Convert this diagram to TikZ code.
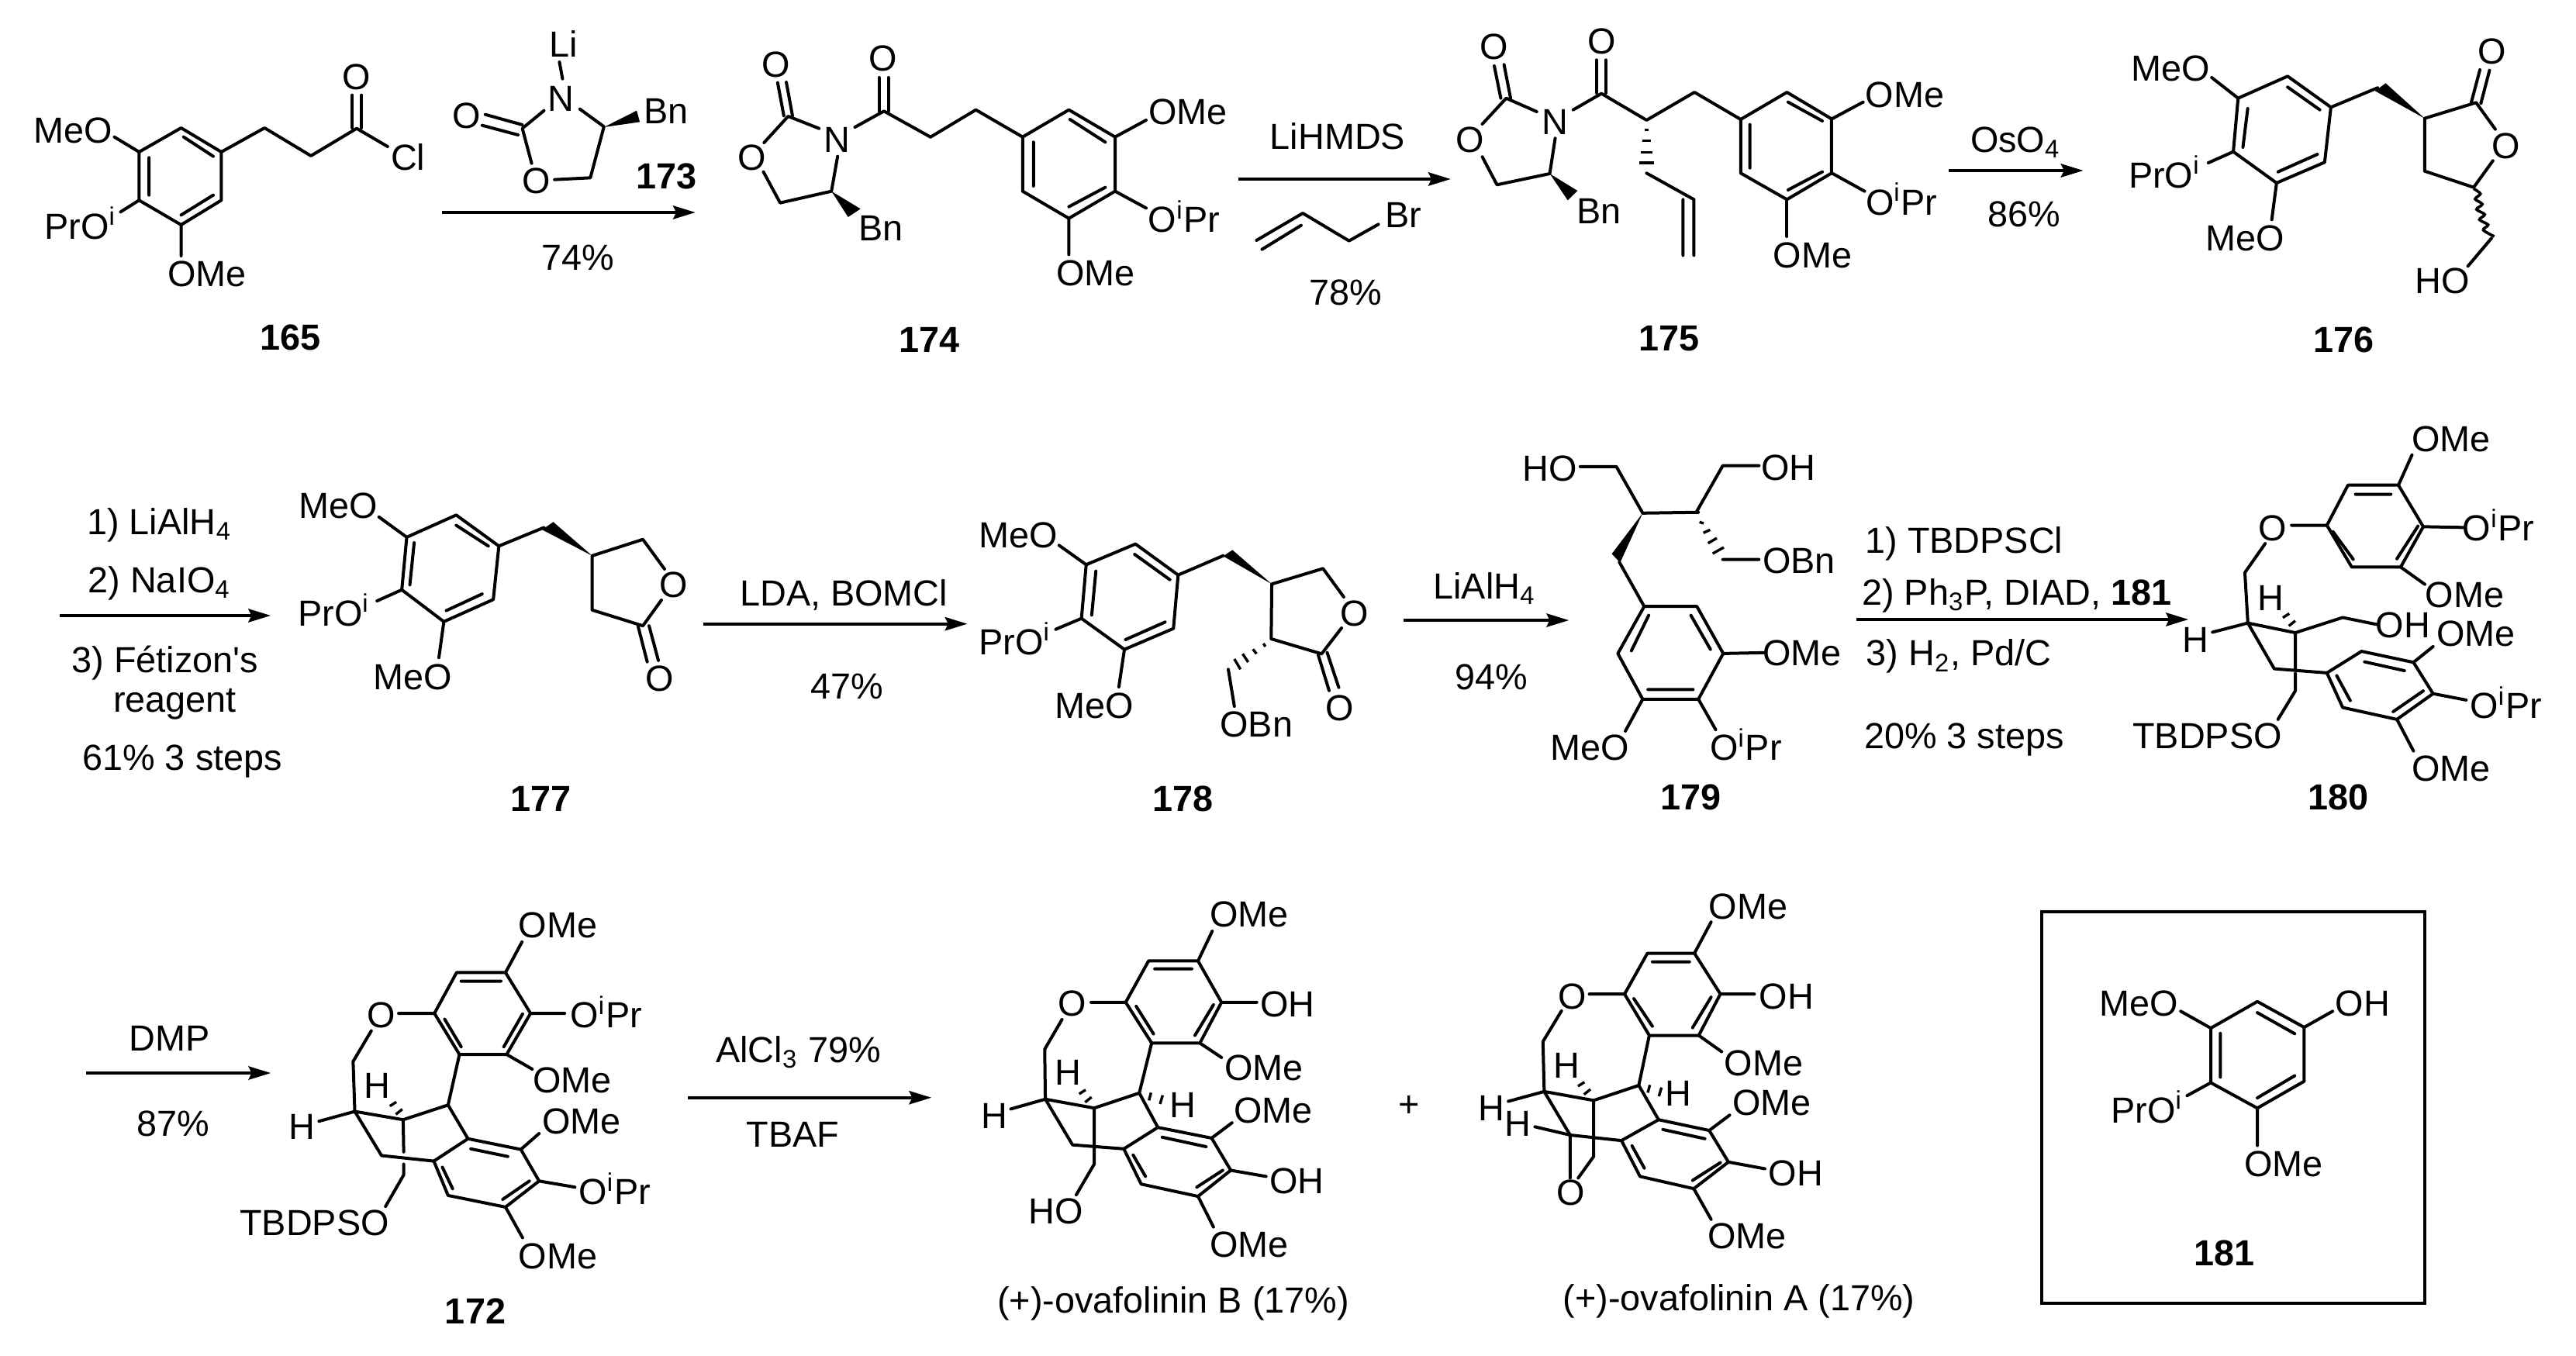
\documentclass[tikz,border=0pt]{standalone}
\usepackage{fontspec}
\newfontfamily\hv{Liberation Sans}
\usetikzlibrary{arrows.meta}
\newcounter{tc}
\tikzset{
 atom/.style={anchor=base,inner sep=0pt,outer sep=0pt,font={\hv\fontsize{11.7}{13}\selectfont}},
 bond/.style={line width=1pt,line cap=round,line join=round},
 hashb/.style={line width=0.85pt,line cap=butt},
 rxn/.style={line width=1pt,-{Stealth[length=7.2pt,width=4.3pt,inset=1pt]}},
 Zone/.style={xshift=0pt,yshift=0pt,x=0.19930pt,y=-0.08333pt},
 Ztwo/.style={xshift=312.5pt,yshift=0pt,x=0.17538pt,y=-0.08333pt},
 Zthree/.style={xshift=587.5pt,yshift=0pt,x=0.15498pt,y=-0.08333pt},
 Zfour/.style={xshift=0pt,yshift=-125pt,x=0.19930pt,y=-0.08929pt},
 Zfive/.style={xshift=450pt,yshift=-125pt,x=0.24267pt,y=-0.08929pt},
 Zsix/.style={xshift=62.5pt,yshift=-280pt,x=0.18335pt,y=-0.09885pt},
 Zseven/.style={xshift=312.5pt,yshift=-280pt,x=0.19930pt,y=-0.09885pt},
 Zeight/.style={xshift=650pt,yshift=-287.5pt,x=0.10204pt,y=-0.08929pt},
 Znine/.style={xshift=310pt,yshift=-150pt,x=0.08929pt,y=-0.08333pt},
 Zten/.style={xshift=22.5pt,yshift=-325pt,x=0.08333pt,y=-0.08333pt},
 Zeleven/.style={xshift=525pt,yshift=-145pt,x=0.08333pt,y=-0.08333pt},
 Ztwelve/.style={xshift=470pt,yshift=-330pt,x=0.08333pt,y=-0.08333pt},
}
\newcommand{\Tx}[3]{\stepcounter{tc}\node[atom] (t\arabic{tc}) at (#1,#2) {#3};}
\newcommand{\Lb}[3]{\node[atom,font={\hv\bfseries\fontsize{11.7}{13}\selectfont}] (c#3) at (#1,#2) {#3};}
\newcommand{\Wd}[3]{\fill[black] #1 -- #2 -- #3 -- cycle;}
\newcommand{\HashH}[2]{\draw[hashb] (490+#1,227+#2)--(465+#1,243+#2) (513+#1,255+#2)--(488+#1,275+#2);}
\newcommand{\HashR}[2]{\draw[hashb] (743+#1,238+#2)--(735+#1,268+#2) (788+#1,248+#2)--(778+#1,282+#2);}
\begin{document}
\begin{tikzpicture}
\useasboundingbox (0,0) rectangle (830.5pt,-437pt);
% ---------- row 1, left
\begin{scope}[Zone]
% 165
\draw[bond] (293,495)--(358,588)--(358,775)--(293,870)--(225,775)--(225,588)--cycle;
\draw[bond] (297,530)--(345,605) (345,755)--(293,832) (241,610)--(241,755);
\draw[bond] (358,588)--(428,495)--(503,603)--(577,497)--(627,567);
\draw[bond] (570,495)--(570,368) (585,495)--(585,368);
\draw[bond] (225,588)--(185,530) (225,775)--(195,820) (293,870)--(293,990);
\Tx{577}{347}{O}
\Tx{660}{658}{Cl}
\Tx{118}{552}{MeO}
\Tx{130}{925}{PrO\textsuperscript{i}}
\Tx{335}{1110}{OMe}
\Lb{470}{1355}{165}
% 173
\Tx{912}{220}{Li}
\Tx{907}{430}{N}
\Tx{755}{495}{O}
\Tx{868}{750}{O}
\Tx{1078}{478}{Bn}
\Lb{1078}{730}{173}
\draw[bond] (905,240)--(910,305) (880,428)--(845,497)--(860,632) (897,695)--(955,688)--(977,490)--(938,422);
\draw[bond] (785,443)--(845,483) (780,485)--(838,522);
\Wd{(977,492)}{(1030,428)}{(1035,472)}
\coordinate (r1a) at (715,822); \coordinate (r1b) at (1125,822);
\draw[rxn] (r1a)--(r1b);
\Tx{935}{1045}{74\%}
% 174 left part
\Tx{1255}{297}{O}
\Tx{1354}{588}{N}
\Tx{1216}{657}{O}
\Tx{1425}{932}{Bn}
\Tx{1429}{275}{O}
\Lb{1503}{1365}{174}
\draw[bond] (1258,320)--(1268,448) (1272,318)--(1282,448);
\draw[bond] (1325,497)--(1275,450)--(1236,552) (1235,665)--(1262,785)--(1345,740)--(1355,605);
\draw[bond] (1383,492)--(1430,430)--(1505,530);
\draw[bond] (1422,430)--(1422,300) (1437,430)--(1437,300);
\Wd{(1345,740)}{(1372,840)}{(1392,808)}
\end{scope}
\begin{scope}[Ztwo]
\draw[bond] (-71,530)--(12,425)--(98,530);
\draw[bond] (98,530)--(183,425)--(268,530)--(268,740)--(183,845)--(98,740)--cycle;
\draw[bond] (185,462)--(250,550) (118,550)--(118,720) (183,800)--(250,725);
\draw[bond] (268,530)--(325,465) (268,740)--(325,805) (183,845)--(183,985);
\Tx{402}{482}{OMe}
\Tx{395}{900}{O\textsuperscript{i}Pr}
\Tx{232}{1107}{OMe}
\coordinate (r2a) at (495,693); \coordinate (r2b) at (885,693);
\draw[rxn] (r2a)--(r2b);
\Tx{677}{577}{LiHMDS}
\Tx{798}{880}{Br}
\Tx{692}{1180}{78\%}
\draw[bond] (528,930)--(613,825)--(698,932)--(752,868) (538,965)--(610,872);
% 175
\Tx{965}{230}{O}
\Tx{1077}{520}{N}
\Tx{920}{590}{O}
\Tx{1157}{865}{Bn}
\Tx{1162}{208}{O}
\Lb{1287}{1358}{175}
\draw[bond] (965,255)--(977,380) (983,250)--(995,380);
\draw[bond] (1043,432)--(987,380)--(943,480) (943,607)--(970,715)--(1067,672)--(1077,535);
\Wd{(1067,672)}{(1100,775)}{(1118,738)}
\draw[bond] (1110,425)--(1162,362)--(1245,465)--(1333,357)--(1418,462);
\draw[bond] (1153,360)--(1153,232) (1170,360)--(1170,232);
\draw[hashb] (1241,503)--(1249,503) (1237,545)--(1253,545) (1234,590)--(1256,590) (1232,630)--(1258,630);
\draw[bond] (1245,670)--(1332,772) (1312,772)--(1312,988) (1332,772)--(1332,988);
\draw[bond] (1418,462)--(1503,357)--(1585,460)--(1585,670)--(1503,772)--(1418,670)--cycle;
\draw[bond] (1435,482)--(1435,650) (1505,395)--(1568,468) (1505,735)--(1568,665);
\draw[bond] (1503,772)--(1503,915);
\Tx{1550}{1037}{OMe}
\end{scope}
\begin{scope}[Zthree]
\draw[bond] (20,460)--(85,395) (20,670)--(88,740);
\Tx{172}{415}{OMe}
\Tx{165}{832}{O\textsuperscript{i}Pr}
\coordinate (r3a) at (263,660); \coordinate (r3b) at (543,660);
\draw[rxn] (r3a)--(r3b);
\Tx{402}{590}{OsO\textsubscript{4}}
\Tx{420}{878}{86\%}
% 176
\draw[bond] (968,295)--(1058,415)--(1045,628)--(945,708)--(855,587)--(865,380)--cycle;
\draw[bond] (968,337)--(1035,425) (1030,597)--(948,665) (875,570)--(885,420);
\draw[bond] (865,380)--(810,300) (855,587)--(803,630) (945,708)--(935,850);
\Tx{725}{312}{MeO}
\Tx{712}{727}{PrO\textsuperscript{i}}
\Tx{880}{970}{MeO}
\draw[bond] (1058,415)--(1155,340);
\Wd{(1253,458)}{(1172,322)}{(1150,352)}
\draw[bond] (1253,662)--(1253,458)--(1360,397)--(1400,500) (1395,622)--(1355,725)--(1253,662);
\draw[bond] (1350,397)--(1368,270) (1370,400)--(1388,272);
\Tx{1423}{612}{O}
\Tx{1393}{248}{O}
\draw[line width=0.9pt] plot[smooth] coordinates {(1355,730)(1369,750)(1358,770)(1373,790)(1361,810)(1378,830)(1367,850)(1385,870)(1375,890)(1398,915)};
\draw[bond] (1392,922)--(1343,1030);
\Tx{1290}{1135}{HO}
\Lb{1085}{1365}{176}
\end{scope}
% ---------- row 2
\begin{scope}[Zfour]
\coordinate (r4a) at (97,823); \coordinate (r4b) at (438,823);
\draw[rxn] (r4a)--(r4b);
\Tx{258}{530}{1) LiAlH\textsubscript{4}}
\Tx{258}{740}{2) NaIO\textsubscript{4}}
\Tx{267}{1030}{3) Fétizon's}
\Tx{283}{1172}{reagent}
\Tx{295}{1382}{61\% 3 steps}
\Lb{875}{1530}{177}
\draw[bond] (738,460)--(807,572)--(798,765)--(718,845)--(650,730)--(658,540)--cycle;
\draw[bond] (738,497)--(790,572) (780,745)--(722,805) (670,560)--(663,712);
\draw[bond] (658,540)--(613,467) (650,730)--(610,770) (718,845)--(710,975);
\Tx{547}{473}{MeO}
\Tx{540}{860}{PrO\textsuperscript{i}}
\Tx{668}{1090}{MeO}
\draw[bond] (807,572)--(880,505);
\Wd{(958,607)}{(895,485)}{(877,513)}
\draw[bond] (958,803)--(958,607)--(1040,548)--(1075,655) (1070,767)--(1040,860)--(958,803);
\draw[bond] (1032,860)--(1047,990) (1050,860)--(1065,985);
\Tx{1090}{758}{O}
\Tx{1067}{1097}{O}
\coordinate (r5a) at (1138,853); \coordinate (r5b) at (1565,853);
\draw[rxn] (r5a)--(r5b);
\Tx{1365}{787}{LDA, BOMCl}
\Tx{1370}{1125}{47\%}
\end{scope}
\begin{scope}[Znine]
% 178
\draw[bond] (628,305)--(782,425)--(765,632)--(588,713)--(433,593)--(450,385)--cycle;
\draw[bond] (625,345)--(752,443) (735,607)--(592,675) (485,410)--(470,580);
\draw[bond] (450,385)--(352,310) (433,593)--(340,635) (588,713)--(568,858);
\Tx{205}{318}{MeO}
\Tx{192}{732}{PrO\textsuperscript{i}}
\Tx{478}{978}{MeO}
\draw[bond] (782,425)--(945,350);
\Wd{(1120,460)}{(978,328)}{(945,352)}
\draw[bond] (1118,672)--(1120,460)--(1305,400)--(1380,510) (1372,630)--(1300,730)--(1118,672);
\draw[bond] (1288,735)--(1327,872) (1320,725)--(1362,860);
\draw[hashb] (1090,690)--(1097,702) (1052,712)--(1065,730) (1015,730)--(1035,762) (985,750)--(1007,790);
\draw[bond] (963,790)--(985,933);
\Tx{1418}{622}{O}
\Tx{1365}{988}{O}
\Tx{1065}{1052}{OBn}
\Lb{800}{1340}{178}
\end{scope}
\begin{scope}[Zfive]
\coordinate (r6a) at (10,840); \coordinate (r6b) at (230,840);
\draw[rxn] (r6a)--(r6b);
\Tx{118}{762}{LiAlH\textsubscript{4}}
\Tx{127}{1090}{94\%}
% 179
\draw[bond] (330,790)--(400,790)--(435,960)--(402,1125)--(328,1125)--(295,960)--cycle;
\draw[bond] (336,822)--(313,950) (392,822)--(418,945) (335,1090)--(395,1090);
\draw[bond] (435,960)--(490,957) (402,1125)--(425,1235) (328,1125)--(305,1240);
\Tx{540}{1005}{OMe}
\Tx{465}{1345}{O\textsuperscript{i}Pr}
\Tx{258}{1345}{MeO}
\draw[bond] (297,630)--(330,790);
\Wd{(328,453)}{(287,600)}{(298,632)}
\draw[bond] (245,285)--(293,285)--(328,453)--(402,450);
\Tx{205}{337}{HO}
\Lb{392}{1525}{179}
% reagents
\coordinate (r7a) at (612,837); \coordinate (r7b) at (1053,837);
\draw[rxn] (r7a)--(r7b);
\Tx{755}{598}{1) TBDPSCl}
\Tx{825}{785}{2) Ph\textsubscript{3}P, DIAD, \textbf{181}}
\Tx{748}{1005}{3) H\textsubscript{2}, Pd/C}
\Tx{755}{1302}{20\% 3 steps}
% 180
\draw[bond] (1265,352)--(1332,352)--(1365,502)--(1335,648)--(1270,648)--(1237,497)--cycle;
\draw[bond] (1275,385)--(1322,385) (1330,618)--(1358,500) (1245,520)--(1272,620);
\draw[bond] (1332,352)--(1350,243) (1365,502)--(1420,505) (1335,648)--(1367,710);
\draw[bond] (1237,497)--(1190,497) (1155,563)--(1128,668)--(1132,850);
\Tx{1402}{230}{OMe}
\Tx{1465}{553}{O\textsuperscript{i}Pr}
\Tx{1420}{793}{OMe}
\Tx{1165}{553}{O}
\Tx{1062}{955}{H}
\Tx{1162}{805}{H}
\Tx{1078}{1303}{TBDPSO}
\draw[bond] (1085,883)--(1132,850)--(1195,885) (1132,850)--(1167,1015)--(1237,1030);
\draw[bond] (1195,885)--(1195,1017) (1195,1032)--(1195,1095)--(1172,1198);
\draw[bond] (1195,885)--(1258,830)--(1303,855);
\Tx{1338}{903}{OH}
\Tx{1435}{935}{OMe}
\draw[bond] (1283,952)--(1352,992)--(1378,1105)--(1330,1198)--(1258,1155)--(1237,1030)--cycle;
\draw[bond] (1287,990)--(1340,1022) (1365,1095)--(1325,1170) (1250,1040)--(1268,1130);
\draw[bond] (1352,992)--(1378,935) (1378,1105)--(1422,1128) (1330,1198)--(1352,1312);
\Tx{1475}{1195}{O\textsuperscript{i}Pr}
\Tx{1402}{1420}{OMe}
\Lb{1252}{1525}{180}
\end{scope}
\begin{scope}[Zeleven]
\draw[bond] (262,243)--(365,62)--(505,62) (365,425)--(505,425);
\draw[hashb] (275,280)--(291,285) (290,322)--(316,310) (308,362)--(342,342) (326,402)--(369,378);
\Tx{620}{118}{OH}
\Tx{660}{478}{OBn}
\end{scope}
% ---------- row 3
\begin{scope}[Zten]
\coordinate (r8a) at (63,252); \coordinate (r8b) at (778,252);
\draw[rxn] (r8a)--(r8b);
\Tx{387}{165}{DMP}
\Tx{400}{497}{87\%}
\end{scope}
\begin{scope}[Zsix]
% 172
\draw[bond] (462,340)--(548,340)--(592,473)--(550,607)--(467,607)--(423,473)--cycle;
\draw[bond] (470,368)--(540,368) (578,475)--(545,582) (441,492)--(470,582);
\draw[bond] (548,340)--(577,240) (592,473)--(652,473) (550,607)--(595,655);
\draw[bond] (423,473)--(360,473) (312,530)--(280,630)--(283,793);
\Tx{640}{226}{OMe}
\Tx{725}{520}{O\textsuperscript{i}Pr}
\Tx{665}{732}{OMe}
\Tx{330}{520}{O}
\Tx{190}{885}{H}
\Tx{323}{750}{H}
\Tx{212}{1197}{TBDPSO}
\draw[bond] (220,825)--(283,793)--(368,820) (283,793)--(330,937)--(422,955);
\draw[bond] (368,820)--(369,925) (369,965)--(369,1000)--(337,1103);
\draw[bond] (368,820)--(447,772)--(467,607) (447,772)--(482,882);
\draw[bond] (482,882)--(575,917)--(607,1020)--(548,1105)--(447,1067)--(422,955)--cycle;
\draw[bond] (487,915)--(552,940) (590,1020)--(543,1080) (437,975)--(455,1045);
\draw[bond] (575,917)--(607,865) (607,1020)--(670,1040) (548,1105)--(578,1205);
\Tx{682}{865}{OMe}
\Tx{740}{1097}{O\textsuperscript{i}Pr}
\Tx{640}{1305}{OMe}
\Lb{495}{1485}{172}
\coordinate (r9a) at (868,748); \coordinate (r9b) at (1297,748);
\draw[rxn] (r9a)--(r9b);
\Tx{1063}{633}{AlCl\textsubscript{3} 79\%}
\Tx{1053}{910}{TBAF}
\end{scope}
\begin{scope}[Zseven]
% ovafolinin B
\draw[bond] (290,302)--(370,302)--(408,437)--(373,570)--(295,570)--(253,437)--cycle;
\draw[bond] (300,328)--(360,328) (395,445)--(365,545) (270,450)--(298,540);
\draw[bond] (370,302)--(393,205) (408,437)--(465,437) (373,570)--(408,617);
\draw[bond] (253,437)--(197,437) (150,493)--(122,590)--(123,753);
\Tx{453}{190}{OMe}
\Tx{515}{485}{OH}
\Tx{477}{692}{OMe}
\Tx{167}{483}{O}
\Tx{40}{848}{H}
\Tx{160}{708}{H}
\Tx{345}{812}{H}
\Tx{140}{1160}{HO}
\draw[bond] (67,785)--(123,753)--(202,782) (123,753)--(167,902)--(250,915);
\draw[bond] (202,782)--(202,965)--(173,1065);
\draw[bond] (202,782)--(275,733)--(295,570) (275,733)--(305,845);
\draw[bond] (305,845)--(392,880)--(423,985)--(370,1070)--(278,1030)--(250,915)--cycle;
\draw[bond] (312,877)--(383,908) (410,985)--(368,1040) (265,935)--(285,1005);
\draw[bond] (392,880)--(425,830) (423,985)--(480,1005) (370,1070)--(395,1170);
\Tx{492}{830}{OMe}
\Tx{530}{1062}{OH}
\Tx{453}{1268}{OMe}
\Tx{330}{1450}{(+)-ovafolinin B (17\%)}
\Tx{712}{810}{+}
% ovafolinin A
\draw[bond] (1097,277)--(1173,277)--(1215,410)--(1180,545)--(1100,545)--(1060,410)--cycle;
\draw[bond] (1105,305)--(1165,305) (1200,420)--(1170,520) (1075,425)--(1105,515);
\draw[bond] (1173,277)--(1200,175) (1215,410)--(1270,410) (1180,545)--(1217,598);
\draw[bond] (1060,410)--(1003,410) (958,465)--(928,565)--(930,728);
\Tx{1260}{165}{OMe}
\Tx{1322}{460}{OH}
\Tx{1285}{677}{OMe}
\Tx{975}{460}{O}
\Tx{845}{822}{H}
\Tx{887}{875}{H}
\Tx{967}{685}{H}
\Tx{1147}{775}{H}
\Tx{973}{1100}{O}
\draw[bond] (872,760)--(930,728)--(1010,757) (930,728)--(972,870)--(1055,888);
\draw[bond] (915,843)--(972,870)--(972,1010);
\draw[bond] (1010,757)--(1010,940)--(985,1010);
\draw[bond] (1010,757)--(1083,708)--(1100,545) (1083,708)--(1115,820);
\draw[bond] (1115,820)--(1197,855)--(1228,958)--(1172,1045)--(1085,1005)--(1055,888)--cycle;
\draw[bond] (1122,852)--(1190,882) (1215,960)--(1170,1018) (1072,905)--(1092,978);
\draw[bond] (1197,855)--(1230,805) (1228,958)--(1287,980) (1172,1045)--(1200,1145);
\Tx{1298}{805}{OMe}
\Tx{1337}{1035}{OH}
\Tx{1258}{1240}{OMe}
\Tx{1245}{1442}{(+)-ovafolinin A (17\%)}
\end{scope}
\begin{scope}[Ztwelve]
\HashH{0}{0}
\HashR{0}{0}
\HashH{-1930}{30}
\HashR{-1930}{30}
\HashH{-4597}{77}
\HashH{2727}{-1813}
\end{scope}
\begin{scope}[Zeight]
\coordinate (boxa) at (80,72); \coordinate (boxb) at (1290,1487);
\draw[line width=1pt] (boxa) rectangle (boxb);
\draw[bond] (762,397)--(910,490)--(910,685)--(762,782)--(615,690)--(615,493)--cycle;
\draw[bond] (762,437)--(880,513) (880,665)--(762,745) (645,512)--(645,670);
\draw[bond] (615,493)--(520,432) (910,490)--(1000,432) (615,690)--(540,737) (762,782)--(762,917);
\Tx{387}{448}{MeO}
\Tx{1095}{448}{OH}
\Tx{413}{835}{PrO\textsuperscript{i}}
\Tx{845}{1030}{OMe}
\Lb{658}{1350}{181}
\end{scope}
\end{tikzpicture}
\end{document}
